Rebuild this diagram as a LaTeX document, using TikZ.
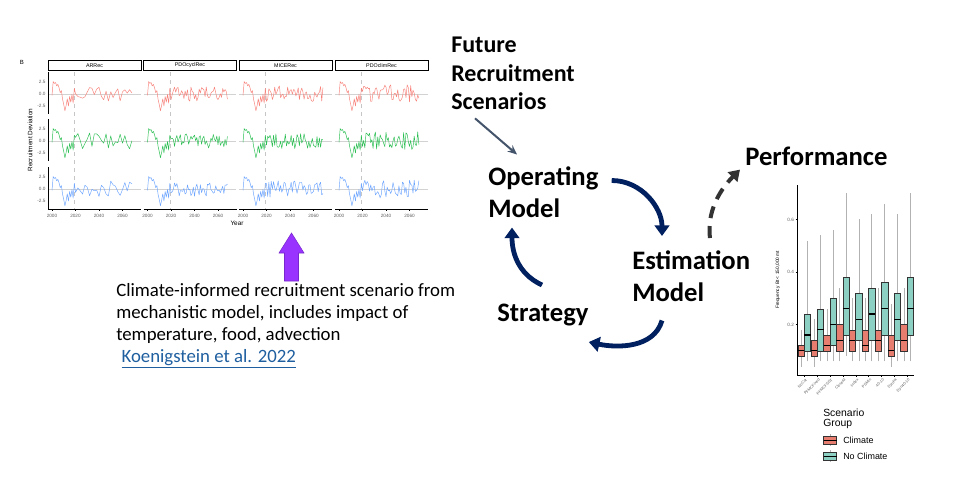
\documentclass[tikz,border=0pt]{standalone}
\usepackage{fontspec}
\setmainfont{Carlito}
\newfontfamily\plotfont{Liberation Sans}
\usetikzlibrary{arrows.meta,positioning,calc}

\definecolor{navyarrow}{RGB}{0,32,96}
\definecolor{slatearrow}{RGB}{68,84,106}
\definecolor{purplearrow}{RGB}{153,51,255}
\definecolor{purpleedge}{RGB}{120,40,205}
\definecolor{linkblue}{RGB}{31,95,160}
\definecolor{recred}{RGB}{248,130,122}
\definecolor{recgreen}{RGB}{40,190,80}
\definecolor{recblue}{RGB}{110,165,255}
\definecolor{boxred}{RGB}{230,125,110}
\definecolor{boxteal}{RGB}{140,208,196}

\tikzset{
  cyclelabel/.style={font=\fontsize{20}{24}\selectfont\bfseries, align=left, inner sep=0pt, anchor=north west},
  cyclearrow/.style={navyarrow, line width=3.6pt, -{Triangle[length=8pt,width=11pt]}},
  strip/.style={draw, line width=0.6pt, fill=white, minimum width=69.75pt, minimum height=7.9pt, inner sep=0pt, font=\plotfont\fontsize{4}{4.5}\selectfont},
  ticklab/.style={font=\plotfont\fontsize{3.5}{4}\selectfont, text=gray!75!black, inner sep=0.6pt},
  recline/.style={line width=0.35pt, line join=round},
  zeroline/.style={gray!35, line width=0.3pt},
  boxfill/.style={draw=black!80, line width=0.35pt},
  whisk/.style={gray!60, line width=0.45pt},
}

% shared history 2000-2019
\newcommand{\histpath}{(0,-0.3) -- (1,2.6) -- (2,2.2) -- (3,2.4) -- (4,1.7) -- (5,2.0) -- (6,1.3) -- (7,0.3) -- (8,0.7) -- (9,-1.1) -- (10,-2.2) -- (11,-3.5) -- (12,-2.4) -- (13,-1.0) -- (14,-2.5) -- (15,-0.5) -- (16,-1.7) -- (17,-0.1) -- (18,-1.9) -- (19,1.2)}

% #1 panel left, #2 strip text, #3 seed, #4 samples, #5 spread
\newcommand{\recpanel}[5]{%
  \node[strip] (strip#3) at ({#1+46.5},65.3) {#2};
  \draw[gray!45, dashed, line width=0.3pt] ({#1+26.3},72) -- ({#1+26.3},209);
  \foreach \yc/\col/\s in {94/recred/1,141/recgreen/2,189/recblue/3}{
    \begin{scope}[shift={({#1+4},\yc)}]
    \begin{scope}[x=0.88125pt,y=3.6pt]
      \draw[zeroline] (-3.4,0) -- (75.7,0);
      \pgfmathsetseed{#3\s}
      \draw[recline,\col] \histpath -- plot[domain=20:68,samples=#4] (\x,{#5*rand});
    \end{scope}
    \end{scope}
  }
  \draw[line width=0.4pt] (#1,209) -- ({#1+93},209);
  \foreach \yr [count=\k from 0] in {2000,2020,2040,2060}{
    \draw[line width=0.3pt] ({#1+4+\k*23.5},209) -- ({#1+4+\k*23.5},210.5);
    \node[ticklab] (yr#3\k) at ({#1+4+\k*23.5},215.5) {\yr};
  }
}

% #1 x, #2 fill, #3 low, #4 q1, #5 median, #6 q3, #7 high
\newcommand{\bxp}[7]{%
  \draw[whisk] ({#1},#3) -- ({#1},#7);
  \draw[boxfill,fill=#2] ({#1-3.2},#4) rectangle ({#1+3.2},#6);
  \draw[line width=0.8pt] ({#1-3.2},#5) -- ({#1+3.2},#5);
}

\begin{document}
\begin{tikzpicture}[x=0.75pt, y=-0.75pt, >=Stealth]
  \fill[white] (0,0) rectangle (960,485);
  \useasboundingbox (0,0) rectangle (960,485);

  % recruitment scenarios
  \node[font=\plotfont\fontsize{4.5}{5}\selectfont] (plotb) at (22,62) {B};
  \recpanel{48}{ARRec}{1}{25}{1.7}
  \recpanel{143.5}{PDOcyclRec}{2}{49}{1.5}
  \recpanel{239}{MICERec}{3}{49}{1.7}
  \recpanel{335}{PDOclimRec}{4}{49}{1.9}
  \foreach \yc in {94,141,189}{
    \draw[line width=0.4pt] (48,{\yc-22}) -- (48,{\yc+20});
    \node[ticklab,anchor=east] (ya\yc) at (46.5,{\yc-12}) {2.5};
    \node[ticklab,anchor=east] (yb\yc) at (46.5,\yc) {0.0};
    \node[ticklab,anchor=east] (yc\yc) at (46.5,{\yc+12}) {-2.5};
  }
  \node[rotate=90, font=\plotfont\fontsize{4.8}{5}\selectfont] (ylab) at (30,140) {Recruitment Deviation};
  \node[font=\plotfont\fontsize{4.8}{5}\selectfont] (xlab) at (237,223.5) {Year};

  \fill[purplearrow, draw=purpleedge, line width=0.4pt] (284.5,281) -- (284.5,253) -- (279,253) -- (291.5,233) -- (304,253) -- (298.5,253) -- (298.5,281) -- cycle;

  \node[anchor=north west, align=left, inner sep=0pt, font=\fontsize{14.1}{16.5}\selectfont] (desc) at (116,283)
    {Climate-informed recruitment scenario from\\mechanistic model, includes impact of\\temperature, food, advection\\\hspace*{4pt}\textcolor{linkblue}{\underline{Koenigstein et al. 2022}}};

  % management cycle
  \node[cyclelabel, font=\fontsize{18}{21.4}\selectfont\bfseries] (fut) at (451,37) {Future\\Recruitment\\Scenarios};
  \node[cyclelabel] (om) at (488,166.5) {Operating\\Model};
  \node[cyclelabel] (em) at (632,250) {Estimation\\Model};
  \node[cyclelabel] (strat) at (497,303.5) {Strategy};
  \node[cyclelabel] (perf) at (745,147) {Performance};

  \draw[slatearrow, line width=1.5pt, -{Stealth[length=7pt,width=6pt]}] ($(fut.south west)+(24,8)$) -- ($(om.north west)+(29,-12)$);
  \draw[cyclearrow] ($(om.north east)+(13,14)$) .. controls +(30,0) and +(0,-28) .. ($(em.north west)+(30,-14)$);
  \draw[cyclearrow] ($(em.south west)+(30,19)$) .. controls +(-8,28) and +(28,6) .. ($(strat.south east)+(0,16)$);
  \draw[cyclearrow] ($(strat.north west)+(45,-18.5)$) .. controls +(-26,-12) and +(0,22) .. ($(om.south west)+(24,9.6)$);
  \draw[black!80, line width=3pt, dash pattern=on 9pt off 6pt, -{Triangle[length=8pt,width=10pt]}] ($(em.north west)+(78,-12)$) .. controls +(-4,-32) and +(-14,14) .. ($(perf.west)+(-5,13)$);

  % performance boxplots
  \begin{scope}[shift={(0,377)}]
  \begin{scope}[y=196.875pt]
    \draw[line width=0.4pt] (797,0.731) -- (797,0.008) -- (914,0.008);
    \foreach \v in {0.2,0.4,0.6}{
      \draw[line width=0.3pt] (795.5,\v) -- (797,\v);
      \node[ticklab,anchor=east] (yt\v) at (795,\v) {\v};
    }
    \node[rotate=90, font=\plotfont\fontsize{3.6}{4}\selectfont] (freq) at (778,0.37) {Frequency Bt < 150,000 mt};
    \foreach \i/\lab/\cA/\cB/\cC/\cD/\cE/\nA/\nB/\nC/\nD/\nE in {
      1/NoCat/0.04/0.08/0.10/0.12/0.18/0.06/0.10/0.16/0.24/0.52,
      2/PFMCFixed/0.04/0.08/0.10/0.14/0.22/0.06/0.10/0.18/0.26/0.54,
      3/PFMCFSST/0.06/0.10/0.12/0.16/0.26/0.06/0.12/0.20/0.30/0.56,
      4/CloseM/0.06/0.10/0.14/0.20/0.34/0.08/0.16/0.26/0.38/0.70,
      5/Index/0.06/0.10/0.14/0.18/0.30/0.06/0.14/0.22/0.32/0.60,
      6/PSMin/0.06/0.10/0.12/0.18/0.30/0.06/0.14/0.24/0.34/0.62,
      7/40-10/0.06/0.10/0.14/0.18/0.34/0.06/0.16/0.26/0.36/0.66,
      8/DynPk/0.04/0.08/0.10/0.16/0.28/0.06/0.14/0.22/0.32/0.62,
      9/Dyn40-10/0.06/0.10/0.14/0.20/0.34/0.06/0.16/0.26/0.38/0.70}{
      \pgfmathsetmacro\cx{804.3+12.85*(\i-1)}
      \bxp{\cx-3.2}{boxred}{\cA}{\cB}{\cC}{\cD}{\cE}
      \bxp{\cx+3.2}{boxteal}{\nA}{\nB}{\nC}{\nD}{\nE}
      \draw[line width=0.3pt] (\cx,0.008) -- (\cx,0.0);
      \node[ticklab, rotate=45, anchor=north east, inner sep=0pt, font=\plotfont\fontsize{2.9}{3.2}\selectfont] (xl\i) at ({\cx+1},-0.004) {\lab};
    }
  \end{scope}
  \end{scope}

  \node[anchor=north west, align=left, inner sep=0pt, font=\plotfont\fontsize{7.8}{8}\selectfont] (legtitle) at (823,408.5) {Scenario\\Group};
  \foreach \yk/\fc/\lab in {440/boxred/Climate,456/boxteal/No Climate}{
    \draw[whisk] (830,{\yk-6}) -- (830,{\yk+6});
    \draw[boxfill,fill=\fc] (823.5,{\yk-4}) rectangle (836.5,{\yk+4});
    \draw[line width=0.6pt] (823.5,\yk) -- (836.5,\yk);
    \node[anchor=west, inner sep=0pt, font=\plotfont\fontsize{6.7}{7}\selectfont] (leg\yk) at (843,\yk) {\lab};
  }
\end{tikzpicture}
\end{document}
